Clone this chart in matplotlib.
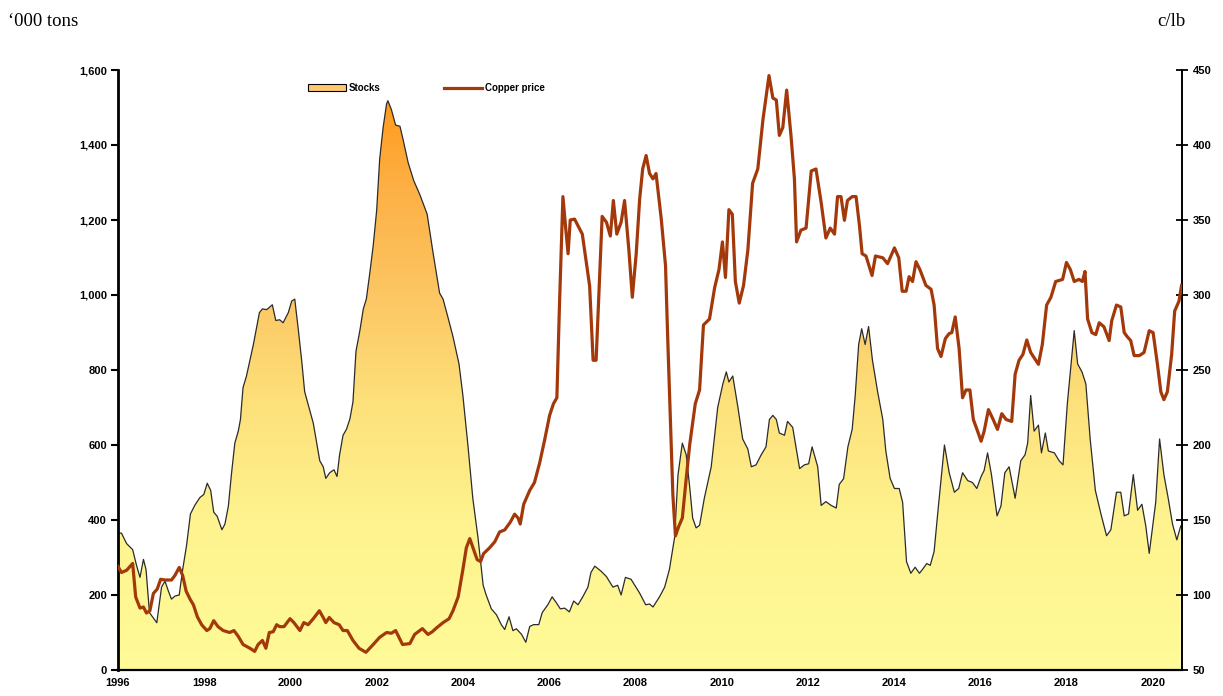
import numpy as np
import matplotlib
matplotlib.use("Agg")
import matplotlib.pyplot as plt
from matplotlib.colors import LinearSegmentedColormap
from matplotlib.patches import Patch
from matplotlib.lines import Line2D

# LME copper stocks ('000 tons) and copper price (c/lb)
stock_years = [
    1996.00, 1996.08, 1996.20, 1996.34, 1996.43, 1996.51, 1996.59, 1996.65, 1996.73, 1996.80,
    1996.90, 1997.01, 1997.09, 1997.17, 1997.24, 1997.32, 1997.42, 1997.50, 1997.59, 1997.68,
    1997.78, 1997.90, 1997.99, 1998.07, 1998.15, 1998.22, 1998.30, 1998.41, 1998.48, 1998.56,
    1998.63, 1998.71, 1998.79, 1998.84, 1998.90, 1998.98, 1999.06, 1999.14, 1999.21, 1999.28,
    1999.35, 1999.45, 1999.58, 1999.66, 1999.75, 1999.83, 1999.95, 2000.03, 2000.10, 2000.18,
    2000.26, 2000.33, 2000.43, 2000.53, 2000.68, 2000.76, 2000.82, 2000.91, 2001.01, 2001.08,
    2001.14, 2001.22, 2001.30, 2001.38, 2001.45, 2001.52, 2001.61, 2001.69, 2001.76, 2001.84,
    2001.92, 2002.00, 2002.07, 2002.15, 2002.23, 2002.26, 2002.34, 2002.44, 2002.54, 2002.61,
    2002.73, 2002.86, 2003.00, 2003.17, 2003.31, 2003.46, 2003.54, 2003.65, 2003.77, 2003.91,
    2004.00, 2004.12, 2004.23, 2004.35, 2004.47, 2004.54, 2004.66, 2004.78, 2004.89, 2004.97,
    2005.07, 2005.16, 2005.24, 2005.36, 2005.46, 2005.55, 2005.64, 2005.76, 2005.84, 2005.97,
    2006.07, 2006.17, 2006.26, 2006.36, 2006.47, 2006.57, 2006.67, 2006.78, 2006.90, 2006.97,
    2007.06, 2007.21, 2007.33, 2007.48, 2007.59, 2007.67, 2007.77, 2007.90, 2008.10, 2008.24,
    2008.33, 2008.41, 2008.56, 2008.68, 2008.79, 2008.91, 2008.99, 2009.09, 2009.18, 2009.26,
    2009.33, 2009.41, 2009.49, 2009.60, 2009.76, 2009.91, 2010.03, 2010.11, 2010.17, 2010.26,
    2010.38, 2010.49, 2010.61, 2010.69, 2010.80, 2010.92, 2011.03, 2011.11, 2011.19, 2011.27,
    2011.34, 2011.46, 2011.53, 2011.65, 2011.81, 2011.92, 2012.02, 2012.10, 2012.23, 2012.31,
    2012.42, 2012.54, 2012.66, 2012.73, 2012.83, 2012.93, 2013.03, 2013.10, 2013.18, 2013.25,
    2013.33, 2013.41, 2013.50, 2013.62, 2013.74, 2013.81, 2013.91, 2014.01, 2014.12, 2014.20,
    2014.29, 2014.39, 2014.49, 2014.59, 2014.66, 2014.76, 2014.84, 2014.93, 2015.03, 2015.17,
    2015.28, 2015.40, 2015.50, 2015.59, 2015.71, 2015.82, 2015.92, 2016.02, 2016.09, 2016.17,
    2016.26, 2016.39, 2016.48, 2016.57, 2016.67, 2016.81, 2016.94, 2017.04, 2017.10, 2017.17,
    2017.25, 2017.35, 2017.42, 2017.51, 2017.58, 2017.72, 2017.83, 2017.92, 2018.02, 2018.18,
    2018.26, 2018.36, 2018.45, 2018.55, 2018.67, 2018.80, 2018.93, 2019.03, 2019.16, 2019.26,
    2019.34, 2019.44, 2019.55, 2019.65, 2019.75, 2019.84, 2019.92, 2019.99, 2020.07, 2020.16,
    2020.26, 2020.36, 2020.46, 2020.56, 2020.65,
]
stocks = [
    365, 365, 337, 321, 279, 247, 295, 268, 153, 142,
    126, 221, 237, 210, 189, 197, 200, 268, 332, 416,
    439, 460, 468, 498, 479, 421, 410, 374, 389, 437,
    521, 605, 637, 668, 753, 784, 826, 868, 910, 953,
    963, 961, 974, 932, 934, 926, 953, 984, 989, 910,
    826, 742, 700, 658, 558, 542, 511, 526, 534, 516,
    574, 626, 642, 670, 715, 850, 905, 963, 989, 1058,
    1132, 1226, 1363, 1447, 1510, 1518, 1495, 1453, 1450, 1416,
    1353, 1305, 1268, 1216, 1111, 1005, 989, 942, 889, 816,
    732, 595, 458, 353, 226, 200, 163, 147, 121, 108,
    142, 105, 110, 95, 74, 116, 121, 121, 153, 174,
    195, 179, 163, 165, 155, 184, 174, 195, 221, 260,
    277, 263, 249, 221, 226, 200, 247, 242, 205, 174,
    176, 168, 195, 221, 268, 353, 521, 605, 574, 489,
    405, 379, 386, 458, 542, 700, 763, 795, 768, 784,
    700, 616, 589, 542, 547, 574, 595, 668, 679, 668,
    632, 626, 663, 647, 537, 547, 550, 595, 542, 439,
    449, 439, 432, 495, 510, 595, 642, 732, 868, 910,
    868, 916, 826, 742, 668, 584, 511, 484, 484, 447,
    289, 258, 274, 258, 268, 284, 279, 316, 437, 600,
    526, 474, 484, 526, 505, 500, 484, 516, 532, 579,
    521, 411, 437, 526, 542, 458, 558, 574, 605, 732,
    637, 653, 579, 632, 584, 579, 558, 547, 710, 905,
    816, 795, 763, 616, 479, 416, 358, 374, 474, 474,
    411, 416, 521, 426, 442, 384, 311, 374, 447, 616,
    521, 458, 389, 347, 384,
]

price_years = [
    1996.00, 1996.08, 1996.20, 1996.34, 1996.41, 1996.51, 1996.59, 1996.66, 1996.74, 1996.82,
    1996.91, 1996.99, 1997.09, 1997.24, 1997.32, 1997.42, 1997.50, 1997.58, 1997.67, 1997.75,
    1997.84, 1997.94, 1998.06, 1998.13, 1998.22, 1998.32, 1998.44, 1998.59, 1998.69, 1998.79,
    1998.90, 1999.06, 1999.17, 1999.25, 1999.35, 1999.43, 1999.51, 1999.60, 1999.68, 1999.75,
    1999.85, 1999.99, 2000.08, 2000.22, 2000.31, 2000.41, 2000.53, 2000.67, 2000.76, 2000.82,
    2000.90, 2001.01, 2001.13, 2001.22, 2001.32, 2001.45, 2001.59, 2001.75, 2001.92, 2002.07,
    2002.23, 2002.34, 2002.44, 2002.60, 2002.77, 2002.88, 2003.06, 2003.19, 2003.29, 2003.39,
    2003.54, 2003.68, 2003.77, 2003.89, 2004.00, 2004.08, 2004.16, 2004.25, 2004.33, 2004.41,
    2004.48, 2004.62, 2004.74, 2004.85, 2004.97, 2005.10, 2005.20, 2005.28, 2005.33, 2005.41,
    2005.55, 2005.66, 2005.78, 2005.90, 2006.01, 2006.10, 2006.18, 2006.24, 2006.32, 2006.38,
    2006.44, 2006.49, 2006.59, 2006.77, 2006.94, 2007.02, 2007.09, 2007.23, 2007.33, 2007.42,
    2007.49, 2007.57, 2007.67, 2007.75, 2007.85, 2007.93, 2008.02, 2008.10, 2008.17, 2008.25,
    2008.33, 2008.41, 2008.48, 2008.60, 2008.70, 2008.75, 2008.81, 2008.87, 2008.93, 2009.01,
    2009.09, 2009.18, 2009.26, 2009.39, 2009.49, 2009.58, 2009.72, 2009.84, 2009.94, 2010.02,
    2010.09, 2010.17, 2010.25, 2010.32, 2010.41, 2010.51, 2010.61, 2010.72, 2010.84, 2010.96,
    2011.10, 2011.19, 2011.27, 2011.34, 2011.42, 2011.51, 2011.61, 2011.69, 2011.74, 2011.84,
    2011.96, 2012.08, 2012.19, 2012.31, 2012.42, 2012.52, 2012.62, 2012.69, 2012.77, 2012.85,
    2012.92, 2013.03, 2013.12, 2013.20, 2013.26, 2013.35, 2013.49, 2013.57, 2013.74, 2013.85,
    2014.01, 2014.11, 2014.19, 2014.28, 2014.35, 2014.43, 2014.51, 2014.60, 2014.74, 2014.86,
    2014.93, 2015.01, 2015.09, 2015.19, 2015.28, 2015.34, 2015.42, 2015.51, 2015.59, 2015.67,
    2015.76, 2015.84, 2015.94, 2016.02, 2016.09, 2016.19, 2016.30, 2016.40, 2016.50, 2016.60,
    2016.73, 2016.81, 2016.90, 2016.99, 2017.08, 2017.17, 2017.35, 2017.44, 2017.54, 2017.64,
    2017.75, 2017.91, 2018.00, 2018.09, 2018.18, 2018.29, 2018.37, 2018.43, 2018.49, 2018.59,
    2018.68, 2018.76, 2018.87, 2018.99, 2019.05, 2019.16, 2019.26, 2019.34, 2019.41, 2019.49,
    2019.57, 2019.69, 2019.80, 2019.92, 2020.01, 2020.11, 2020.19, 2020.26, 2020.34, 2020.44,
    2020.51, 2020.61, 2020.67,
]
copper_price = [
    119.0, 115.0, 116.5, 121.0, 98.7, 91.3, 92.0, 88.0, 89.5, 101.0,
    104.0, 110.5, 110.0, 110.0, 113.0, 118.4, 113.0, 102.6, 97.3, 93.4,
    85.5, 80.2, 76.3, 77.6, 82.9, 78.9, 76.3, 75.0, 76.3, 72.4,
    67.0, 64.5, 62.4, 67.0, 69.7, 64.5, 75.0, 75.5, 80.2, 78.9,
    78.9, 84.2, 81.6, 76.3, 81.6, 80.2, 84.2, 89.5, 85.0, 81.6,
    85.0, 81.6, 80.2, 76.3, 76.3, 69.7, 64.5, 61.8, 67.0, 71.8,
    75.0, 74.5, 76.3, 67.0, 67.6, 73.7, 77.6, 73.7, 75.5, 78.1,
    81.6, 84.2, 89.5, 98.7, 117.0, 131.5, 137.6, 130.2, 123.6, 122.3,
    127.6, 131.5, 135.5, 142.0, 143.4, 148.6, 153.9, 151.3, 147.3, 160.5,
    169.7, 175.0, 188.0, 203.9, 219.6, 227.5, 231.5, 293.0, 365.6, 346.0,
    327.5, 350.0, 350.6, 340.6, 306.0, 256.5, 256.5, 352.4, 348.5, 339.3,
    363.0, 340.6, 348.5, 363.0, 330.0, 298.5, 327.5, 364.0, 384.0, 393.0,
    381.0, 377.4, 381.0, 351.0, 319.6, 272.0, 219.6, 167.0, 139.4, 146.0,
    151.3, 177.6, 200.0, 227.5, 236.7, 280.0, 284.0, 305.0, 317.0, 335.4,
    311.7, 356.9, 353.8, 309.0, 294.6, 306.4, 330.0, 374.5, 384.0, 416.9,
    446.3, 431.3, 430.0, 406.4, 411.6, 436.6, 406.4, 377.4, 335.4, 343.2,
    344.6, 382.7, 384.0, 361.7, 338.0, 344.6, 340.6, 365.6, 365.6, 349.8,
    363.0, 365.6, 365.6, 345.9, 327.5, 326.0, 313.0, 326.0, 324.8, 320.9,
    331.4, 324.8, 302.5, 302.5, 312.2, 309.0, 322.2, 317.0, 306.4, 303.8,
    293.3, 264.3, 259.0, 270.9, 274.3, 274.9, 285.4, 264.3, 231.5, 236.7,
    236.7, 217.0, 209.1, 202.5, 209.1, 223.6, 217.0, 210.4, 220.9, 217.0,
    215.7, 247.3, 256.5, 260.4, 270.0, 261.7, 253.8, 267.0, 293.3, 298.5,
    309.0, 310.4, 321.7, 317.0, 309.0, 310.4, 309.0, 315.7, 284.1, 274.9,
    273.6, 281.5, 278.8, 269.6, 282.8, 293.3, 292.0, 274.9, 272.2, 269.6,
    259.6, 259.6, 261.7, 276.2, 274.9, 253.8, 235.4, 230.2, 235.4, 260.4,
    289.3, 295.9, 306.4,
]

year_ticks = list(range(1996, 2021, 2))
stock_ticks = list(range(0, 1601, 200))
price_ticks = list(range(50, 451, 50))

TICK_FONT = dict(family="Liberation Sans", weight="bold", size=8)
PRICE_COLOR = "#A3390B"

plt.rcParams["font.family"] = ["Liberation Sans", "DejaVu Sans"]

fig = plt.figure(figsize=(12.23, 6.96), dpi=100)
ax = fig.add_axes([118 / 1223, 1 - 670 / 696, (1182 - 118) / 1223, 600 / 696])

x_min, x_max = 1996.0, 2020.68

# stocks area with vertical yellow -> orange gradient
grad_cmap = LinearSegmentedColormap.from_list(
    "stock_grad",
    [(0.0, "#FFFB98"), (0.25, "#FEF38E"), (0.45, "#FDE07A"),
     (0.62, "#FCC764"), (0.80, "#FDB146"), (0.95, "#FF9A1C"), (1.0, "#FF951A")],
)
area = ax.fill_between(stock_years, stocks, 0, facecolor="none", edgecolor="none")
gradient = np.linspace(0, 1, 512).reshape(-1, 1)
im = ax.imshow(gradient, extent=[x_min, x_max, 0, 1600], origin="lower",
               aspect="auto", cmap=grad_cmap, vmin=0, vmax=1, zorder=1)
im.set_clip_path(area.get_paths()[0], transform=ax.transData)
ax.plot(stock_years, stocks, color="#2b2b2b", lw=0.9, zorder=2)

ax.set_xlim(x_min, x_max)
ax.set_ylim(0, 1600)
ax.set_xticks(year_ticks)
ax.set_xticklabels([str(y) for y in year_ticks], **TICK_FONT)
ax.set_yticks(stock_ticks)
ax.set_yticklabels([f"{v:,}" for v in stock_ticks], **TICK_FONT)
ax.tick_params(axis="x", length=0, pad=6)
ax.tick_params(axis="y", direction="out", length=5, width=1.5, pad=3)
for side in ("top", "right"):
    ax.spines[side].set_visible(False)
ax.spines["left"].set_linewidth(2)
ax.spines["bottom"].set_linewidth(1.6)

# copper price on the right axis
ax2 = ax.twinx()
ax2.plot(price_years, copper_price, color=PRICE_COLOR, lw=2.3, zorder=3)
ax2.set_ylim(50, 450)
ax2.set_yticks(price_ticks)
ax2.set_yticklabels([str(v) for v in price_ticks], **TICK_FONT)
ax2.tick_params(axis="y", direction="inout", length=9, width=1.3, pad=3)
for side in ("top", "left", "bottom"):
    ax2.spines[side].set_visible(False)
ax2.spines["right"].set_linewidth(1.4)
ax2.set_xlim(x_min, x_max)

handles = [
    Patch(facecolor="#FDC870", edgecolor="black", linewidth=0.8),
    Line2D([0], [0], color=PRICE_COLOR, lw=2.3),
]
fig.legend(handles, ["Stocks", "Copper price"], loc="center left",
           bbox_to_anchor=(308 / 1223, 1 - 88 / 696), ncol=2, frameon=False,
           prop=dict(family="Liberation Sans", weight="bold", size=7),
           handlelength=3.9, handleheight=0.6, handletextpad=0.25,
           columnspacing=6.6, borderaxespad=0, borderpad=0)

fig.text(8 / 1223, 1 - 26 / 696, "\u2018000 tons", family="Liberation Serif", size=13.5)
fig.text(1185 / 1223, 1 - 26 / 696, "c/lb", family="Liberation Serif", size=13.5, ha="right")

fig.savefig("out.png", dpi=100)
